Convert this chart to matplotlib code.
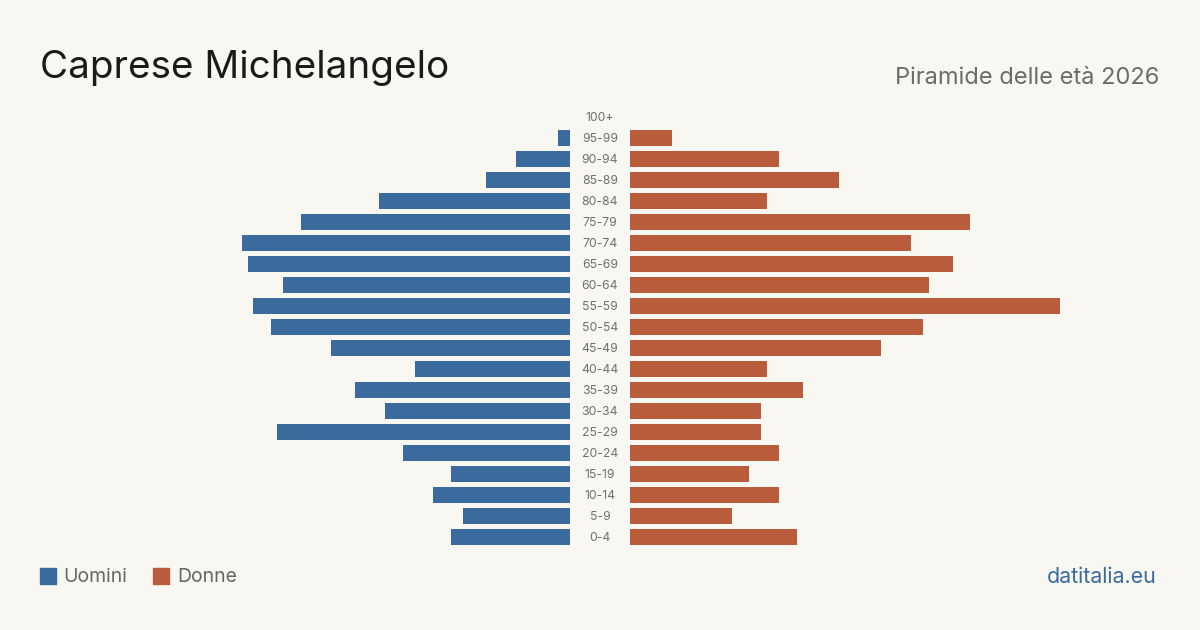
import matplotlib
matplotlib.use('Agg')
import matplotlib.pyplot as plt

# age classes, top to bottom
ages = ['100+', '95-99', '90-94', '85-89', '80-84', '75-79', '70-74', '65-69',
        '60-64', '55-59', '50-54', '45-49', '40-44', '35-39', '30-34', '25-29',
        '20-24', '15-19', '10-14', '5-9', '0-4']
uomini = [0, 2, 9, 14, 32, 45, 55, 54, 48, 53, 50, 40, 26, 36, 31, 49, 28, 20, 23, 18, 20]
donne = [0, 7, 25, 35, 23, 57, 47, 54, 50, 72, 49, 42, 23, 29, 22, 22, 25, 20, 25, 17, 28]

BG = '#f9f7f2'
BLUE = '#3b6b9c'
RED = '#b85c3c'
plt.rcParams['font.family'] = ['Inter', 'DejaVu Sans']

fig = plt.figure(figsize=(12, 6.3), dpi=100, facecolor=BG)

XMAX = 72
bottom, height = 1 - 547.5 / 630, 441 / 630
axl = fig.add_axes([140 / 1200, bottom, 430 / 1200, height])
axr = fig.add_axes([630 / 1200, bottom, 430 / 1200, height])

y = range(len(ages))
axl.barh(y, uomini, height=0.8, color=BLUE)
axr.barh(y, donne, height=0.8, color=RED)

for ax in (axl, axr):
    ax.set_facecolor('none')
    ax.set_ylim(len(ages) - 0.5, -0.5)
    ax.axis('off')
axl.set_xlim(XMAX, 0)
axr.set_xlim(0, XMAX)

for i, a in enumerate(ages):
    fig.text(600 / 1200, 1 - (118 + 21 * i) / 630, a, ha='center', va='center',
             fontsize=8.8, color='#707070')

fig.text(40 / 1200, 1 - 68 / 630, 'Caprese Michelangelo', fontsize=27.8,
         color='#1a1a1a', va='center', ha='left')
fig.text(1159 / 1200, 1 - 77.5 / 630, 'Piramide delle età 2026', fontsize=17,
         color='#6b6b6b', va='center', ha='right')

# legend
fig.patches.append(plt.Rectangle((40 / 1200, 1 - 584 / 630), 16 / 1200, 16 / 630,
                                 transform=fig.transFigure, color=BLUE))
fig.text(63 / 1200, 1 - 577 / 630, 'Uomini', fontsize=13.9, color='#666666',
         va='center', ha='left')
fig.patches.append(plt.Rectangle((153 / 1200, 1 - 584 / 630), 16 / 1200, 16 / 630,
                                 transform=fig.transFigure, color=RED))
fig.text(177 / 1200, 1 - 577 / 630, 'Donne', fontsize=13.9, color='#666666',
         va='center', ha='left')
fig.text(1157 / 1200, 1 - 577 / 630, 'datitalia.eu', fontsize=15.4, color=BLUE,
         va='center', ha='right')

fig.savefig('out.png', dpi=100, facecolor=BG)
